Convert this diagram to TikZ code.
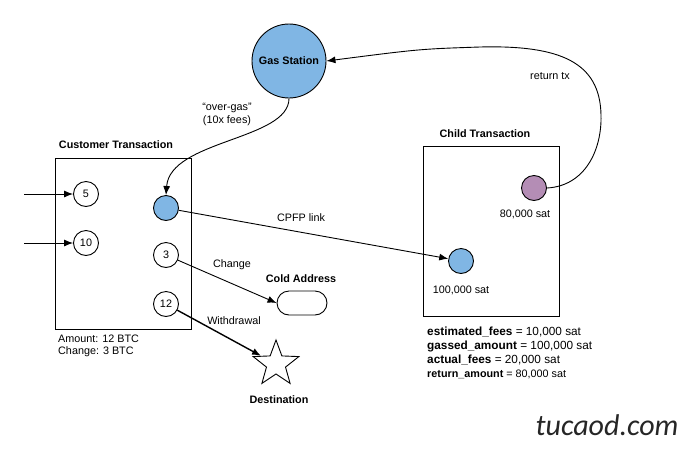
\documentclass[tikz,border=0pt]{standalone}
\usepackage{fontspec}
\setmainfont{Liberation Sans}
\newfontfamily\wmfont{Carlito}
\usetikzlibrary{arrows.meta,shapes.geometric,shapes.misc}
\definecolor{gsblue}{RGB}{128,182,228}
\definecolor{retpurple}{RGB}{180,141,181}
\begin{document}
\begin{tikzpicture}[x=1pt,y=-1pt,font=\fontsize{10.8}{13}\selectfont,
  dot/.style={circle,draw,line width=0.9pt,minimum size=25pt,inner sep=0pt},
  box/.style={draw,line width=1.2pt,inner sep=0pt,anchor=north west},
  arr/.style={-{Latex[length=9pt,width=7pt]},line width=0.9pt},
  lbl/.style={inner sep=0pt},
  big/.style={inner sep=0pt,anchor=west,font=\fontsize{11.8}{14}\selectfont},
  ttl/.style={inner sep=0pt,font=\fontsize{10.8}{13}\selectfont\bfseries}]
\useasboundingbox (0,0) rectangle (700,450);
% boxes
\node[box,minimum width=136pt,minimum height=171pt] (ct) at (55,158) {};
\node[ttl] (ctl) at (116,145) {Customer Transaction};
\node[box,minimum width=136pt,minimum height=170pt] (chb) at (423,146) {};
\node[ttl] (chl) at (485,134) {Child Transaction};
% gas station
\node[circle,draw,fill=gsblue,line width=0.9pt,minimum size=74pt,inner sep=0pt,font=\fontsize{10.8}{13}\selectfont\bfseries] (gs) at (289,61) {Gas Station};
% dots
\node[dot] (c5) at (86,194) {5};
\node[dot] (c10) at (86,243) {10};
\node[dot,fill=gsblue] (bl) at (166,208) {};
\node[dot] (c3) at (166,255) {3};
\node[dot] (c12) at (166,304) {12};
\node[dot,fill=retpurple] (pu) at (534,188) {};
\node[dot,fill=gsblue] (cb) at (461,261) {};
% targets
\node[draw,rounded rectangle,minimum width=50pt,minimum height=24pt,line width=0.9pt,inner sep=0pt] (cold) at (302,303) {};
\node[ttl] (coldl) at (301,279) {Cold Address};
\node[star,star points=5,star point ratio=2.4,draw,line width=0.9pt,minimum size=48pt,inner sep=0pt] (dest) at (276,364) {};
\node[ttl] (destl) at (279,400) {Destination};
% inputs
\coordinate (i5) at (24,194);
\coordinate (i10) at (24,243);
\draw[arr] (i5) -- (c5);
\draw[arr] (i10) -- (c10);
% connectors
\draw[arr] (gs.south) .. controls (289,140) and (170,140) .. (bl.north);
\node[lbl,align=center] (og) at (227,114) {``over-gas''\\(10x fees)};
\draw[arr] (bl) -- (cb);
\node[lbl] (cpfp) at (301,218) {CPFP link};
\draw[arr] (c3) -- (cold.west);
\node[lbl] (chg) at (232,265) {Change};
\draw[arr,line width=1.4pt] (c12) -- (dest);
\node[lbl] (wd) at (234,321) {Withdrawal};
\draw[arr] (pu.east) .. controls (585,186) and (602,150) .. (601,115)
  .. controls (600,62) and (560,45) .. (480,47)
  .. controls (420,49) .. (gs.east);
\node[lbl] (rt) at (550,76) {return tx};
% labels
\node[lbl,anchor=west] (amt) at (58,339) {Amount: 12 BTC};
\node[lbl,anchor=west] (chgl) at (58,352) {Change: 3 BTC};
\node[lbl] (pul) at (525,214) {80,000 sat};
\node[lbl] (cbl) at (461,290) {100,000 sat};
\node[big] (f1) at (427,332) {\textbf{estimated\_fees} = 10,000 sat};
\node[big] (f2) at (427,346) {\textbf{gassed\_amount} = 100,000 sat};
\node[big] (f3) at (427,360) {\textbf{actual\_fees} = 20,000 sat};
\node[lbl,anchor=west] (f4) at (427,374) {\textbf{return\_amount} = 80,000 sat};
\node[lbl,font=\wmfont\itshape\fontsize{30}{30}\selectfont,text=black!85] (wm) at (607,425) {tucaod.com};
\end{tikzpicture}
\end{document}
